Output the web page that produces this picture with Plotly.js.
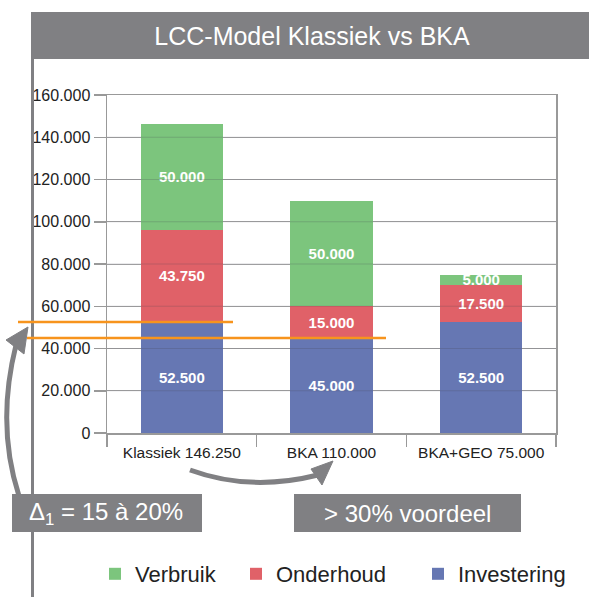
<!DOCTYPE html>
<html>
<head>
<meta charset="utf-8">
<script src="https://cdn.plot.ly/plotly-3.0.1.min.js"></script>
<style>html,body{margin:0;padding:0;background:#fff;overflow:hidden;}#chart{width:589px;height:597px;}</style>
</head>
<body>
<div id="chart"></div>
<script>
// ---- data ----
const categories = ['Klassiek', 'BKA', 'BKA+GEO'];
const investering = [52500, 45000, 52500];
const onderhoud = [43750, 15000, 17500];
const verbruik = [50000, 50000, 5000];
const seriesNames = ['Investering', 'Onderhoud', 'Verbruik'];
const yTicks = [0, 20000, 40000, 60000, 80000, 100000, 120000, 140000, 160000];
const titleText = 'LCC-Model Klassiek vs BKA';
const deltaText = 'Δ<sub>1</sub> = 15 à 20%';
const voordeelText = '> 30% voordeel';

// ---- helpers ----
function fmt(n) { return String(n).replace(/\B(?=(\d{3})+(?!\d))/g, '.'); }
const totals = categories.map((c, i) => investering[i] + onderhoud[i] + verbruik[i]);
const tickLabels = categories.map((c, i) => c + ' ' + fmt(totals[i]));

const W = 589, H = 597;
const L = 107, R = 556, T = 95, B = 433;
const px = x => (x - L) / (R - L);
const py = y => (B - y) / (B - T);

const colors = { Investering: '#6677b3', Onderhoud: '#e06168', Verbruik: '#7cc57d' };
const gray = '#808083';
const orange = '#f7941d';
const font = 'Liberation Sans, Arial, sans-serif';

const seriesData = [investering, onderhoud, verbruik];
const legendIds = ['legend3', 'legend2', 'legend'];
const traces = seriesNames.map((name, k) => ({
  type: 'bar',
  name: name,
  x: categories,
  y: seriesData[k],
  marker: { color: colors[name], line: { width: 0 } },
  texttemplate: '%{y:,}',
  textposition: 'inside',
  insidetextanchor: 'middle',
  constraintext: 'none',
  textfont: { color: '#ffffff', size: 15, family: font, weight: 'bold' },
  hoverinfo: 'skip',
  legend: legendIds[k]
}));

// decorative shapes
const shapes = [];
// title bar
shapes.push({ type: 'rect', xref: 'paper', yref: 'paper', x0: px(31), x1: px(589), y0: py(12), y1: py(59),
  fillcolor: gray, line: { width: 0 }, layer: 'above' });
// left panel border
shapes.push({ type: 'line', xref: 'paper', yref: 'paper', x0: px(32.5), x1: px(32.5), y0: py(59), y1: py(597),
  line: { color: gray, width: 3 }, layer: 'above' });
// gridlines seen through bars
yTicks.slice(1, -1).forEach(v => shapes.push({ type: 'line', xref: 'paper', yref: 'y', x0: 0, x1: 1, y0: v, y1: v,
  line: { color: 'rgba(70,70,80,0.22)', width: 1 }, layer: 'above' }));
// orange reference lines at investment levels
shapes.push({ type: 'line', xref: 'paper', yref: 'y', x0: px(18), x1: px(233), y0: investering[0], y1: investering[0],
  line: { color: orange, width: 2.5 }, layer: 'above' });
shapes.push({ type: 'line', xref: 'paper', yref: 'y', x0: px(27), x1: px(386), y0: investering[1], y1: investering[1],
  line: { color: orange, width: 2.5 }, layer: 'above' });
// left curved arrow
function P(x, y) { return px(x).toFixed(5) + ',' + py(y).toFixed(5); }
shapes.push({ type: 'path', xref: 'paper', yref: 'paper', layer: 'above',
  path: 'M' + P(19, 496) + ' Q' + P(-4, 425) + ' ' + P(16, 345),
  line: { color: gray, width: 5 } });
shapes.push({ type: 'path', xref: 'paper', yref: 'paper', layer: 'above',
  path: 'M' + P(28, 327) + ' L' + P(6, 340) + ' L' + P(24, 354) + ' Z',
  fillcolor: gray, line: { color: gray, width: 1 } });
// bottom curved arrow
shapes.push({ type: 'path', xref: 'paper', yref: 'paper', layer: 'above',
  path: 'M' + P(190, 470) + ' Q' + P(250, 492) + ' ' + P(318, 475),
  line: { color: gray, width: 5 } });
shapes.push({ type: 'path', xref: 'paper', yref: 'paper', layer: 'above',
  path: 'M' + P(333, 461) + ' L' + P(311, 469) + ' L' + P(322, 485) + ' Z',
  fillcolor: gray, line: { color: gray, width: 1 } });
// boxes
shapes.push({ type: 'rect', xref: 'paper', yref: 'paper', x0: px(12), x1: px(202), y0: py(494), y1: py(532),
  fillcolor: gray, line: { width: 0 }, layer: 'above' });
shapes.push({ type: 'rect', xref: 'paper', yref: 'paper', x0: px(294), x1: px(521), y0: py(494), y1: py(532),
  fillcolor: gray, line: { width: 0 }, layer: 'above' });

const annotations = [
  { xref: 'paper', yref: 'paper', x: px(106), y: py(513), text: deltaText, showarrow: false,
    xanchor: 'center', yanchor: 'middle', font: { color: '#fff', size: 24, family: font } },
  { xref: 'paper', yref: 'paper', x: px(407), y: py(513), text: voordeelText, showarrow: false,
    xanchor: 'center', yanchor: 'middle', font: { color: '#fff', size: 24, family: font } }
];

function legendAt(x) {
  return { x: px(x), y: py(574), xanchor: 'left', yanchor: 'middle', orientation: 'h',
    font: { size: 22, family: font, color: '#222' }, bgcolor: 'rgba(0,0,0,0)', borderwidth: 0 };
}

const layout = {
  width: W, height: H,
  margin: { l: L, r: W - R, t: T, b: H - B, pad: 0, autoexpand: false },
  paper_bgcolor: '#fff', plot_bgcolor: '#fff',
  separators: ',.',
  barmode: 'stack',
  bargap: 0.45,
  showlegend: true,
  title: { text: titleText, x: 312 / W, xanchor: 'center', y: 1 - 36 / H, yanchor: 'middle', yref: 'container',
    font: { color: '#fff', size: 25, family: font } },
  xaxis: {
    type: 'category', tickson: 'boundaries', ticks: 'outside', ticklen: 12, tickcolor: '#999', tickwidth: 1.5,
    showgrid: false, showline: true, linecolor: '#999', linewidth: 1.5, mirror: true,
    tickvals: categories, ticktext: tickLabels, ticklabelstandoff: 5,
    tickfont: { size: 15.5, family: font, color: '#222' }, fixedrange: true, automargin: false
  },
  yaxis: {
    range: [0, 160000], tickvals: yTicks, tickformat: ',', ticks: 'outside', ticklen: 12, tickcolor: '#999', tickwidth: 1.5,
    showgrid: true, gridcolor: '#aaa', gridwidth: 1, zeroline: false,
    showline: true, linecolor: '#999', linewidth: 1.5, mirror: true,
    tickfont: { size: 16, family: font, color: '#222' }, fixedrange: true, automargin: false
  },
  legend: legendAt(95),
  legend2: legendAt(236),
  legend3: legendAt(418),
  shapes: shapes,
  annotations: annotations
};

Plotly.newPlot('chart', traces, layout, { displayModeBar: false, staticPlot: true });
</script>
</body>
</html>
